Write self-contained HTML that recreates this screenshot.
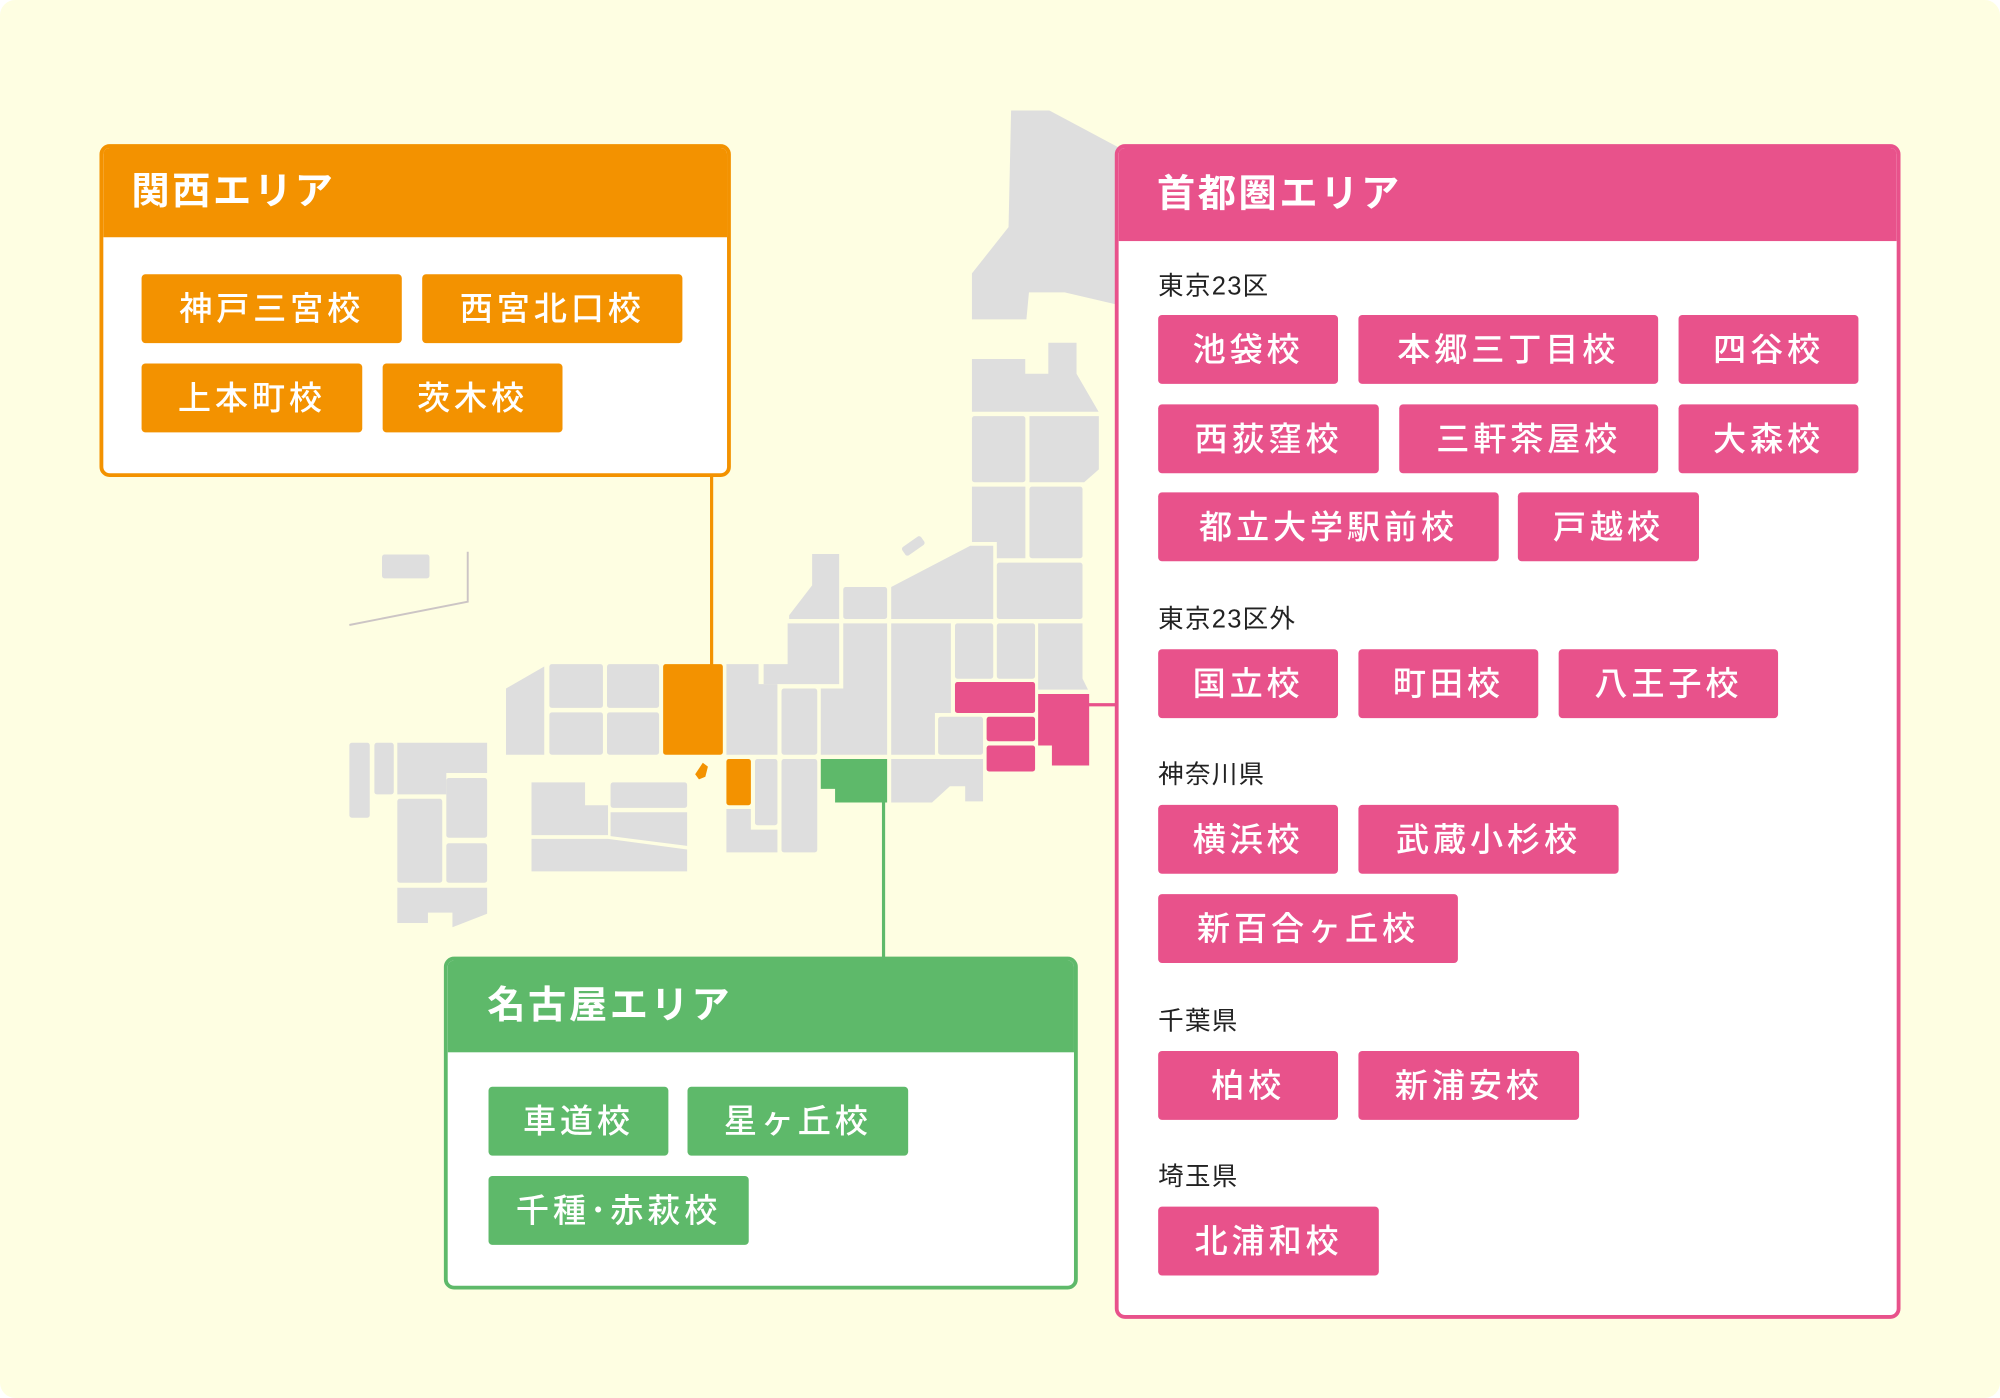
<!DOCTYPE html>
<html><head><meta charset="utf-8"><style>
html,body{margin:0;padding:0;background:#fff;}
body{width:2000px;height:1398px;overflow:hidden;position:relative;}
#stage{position:absolute;left:0;top:0;width:1568px;height:1096px;transform:scale(1.27551);transform-origin:0 0;background:#FEFEE2;border-radius:12px;font-family:"Liberation Sans","Noto Sans CJK JP",sans-serif;}
.box{position:absolute;background:#fff;border:3px solid;border-radius:8px;box-sizing:border-box;overflow:hidden;}
.hd{position:absolute;left:0;top:0;right:0;color:#fff;font-weight:bold;font-size:30px;letter-spacing:2px;box-sizing:border-box;}
.tag{position:absolute;height:54px;line-height:54px;color:#fff;font-size:26px;letter-spacing:3px;text-align:center;border-radius:3px;font-weight:500;}
.o{background:#F39200;} .p{background:#E8528B;} .g{background:#5EB96A;}
.sec{position:absolute;font-size:20px;color:#222;letter-spacing:1px;}
svg{position:absolute;left:0;top:0;}
</style></head><body><div id="stage">
<svg width="1568" height="1096" viewBox="0 0 1568 1096">
<g fill="#DEDEDE">
<polygon points="792.7,86.6 822.7,86.6 880,117.2 880,239.8 834.7,229.2 806.7,229.2 804.7,250.4 762,250.4 762,214.3 790.7,178.1"/>
<polygon points="762,281.5 803.8,281.5 803.8,293 821.9,293 821.9,268.7 844,268.7 844,293 861.3,322.8 762,322.8"/>
<rect x="762" y="326.2" width="41.9" height="51.9" rx="2"/>
<polygon points="807.1,326.2 861.5,326.2 861.5,368 850,378.1 807.1,378.1"/>
<polygon points="762,381.5 803.9,381.5 803.9,437.7 781.5,437.7 781.5,424.9 762,424.9"/>
<rect x="807.1" y="381.5" width="41.6" height="56.2" rx="2"/>
<rect x="781.5" y="441.1" width="67.2" height="44.2" rx="2"/>
<polygon points="698.7,460.2 760.7,427.9 778.7,427.9 778.7,485.3 698.7,485.3"/>
<rect x="707" y="424" width="18" height="8" rx="2" transform="rotate(-35 716 428)"/>
<polygon points="636.7,434.3 657.9,434.3 657.9,485.3 618.7,485.3 618.7,482.4 636.7,458.9"/>
<rect x="661.1" y="460.2" width="34.4" height="25.1" rx="2"/>
<polygon points="617.5,488.7 657.9,488.7 657.9,536.4 598.7,536.4 598.7,520.7 617.5,520.7"/>
<polygon points="661.1,488.7 695.5,488.7 695.5,591.7 643.5,591.7 643.5,539.8 661.1,539.8"/>
<polygon points="698.7,488.7 745.5,488.7 745.5,559 733,559 733,591.7 698.7,591.7"/>
<rect x="735.5" y="561.9" width="35.2" height="29.8" rx="2"/>
<rect x="748.7" y="488.7" width="30" height="43.4" rx="2"/>
<rect x="781.5" y="488.7" width="30" height="43.4" rx="2"/>
<polygon points="813.9,488.7 848.7,488.7 848.7,532 853,540.7 813.9,540.7"/>
<polygon points="698.7,595.1 770.7,595.1 770.7,628.3 756.7,628.3 756.7,616.4 744.7,616.4 730.7,629.2 698.7,629.2"/>
<polygon points="569.5,520.7 594.7,520.7 594.7,536.4 609.5,536.4 609.5,591.7 569.5,591.7"/>
<rect x="612.7" y="539.8" width="28" height="51.9" rx="2"/>
<rect x="591.9" y="595.1" width="17.6" height="51.9" rx="2"/>
<polygon points="569.5,634.3 588.7,634.3 588.7,650.4 609.5,650.4 609.5,668.3 569.5,668.3"/>
<rect x="612.7" y="595.1" width="28" height="73.2" rx="2"/>
<rect x="430.7" y="520.7" width="42" height="34.3" rx="2"/>
<rect x="475.9" y="520.7" width="40.8" height="34.3" rx="2"/>
<rect x="430.7" y="558.5" width="42" height="33.2" rx="2"/>
<rect x="475.9" y="558.5" width="40.8" height="33.2" rx="2"/>
<polygon points="396.7,539.8 426.7,522.5 426.7,591.7 396.7,591.7"/>
<polygon points="416.7,613.4 458.7,613.4 458.7,631.3 476.7,631.3 476.7,654.7 416.7,654.7"/>
<rect x="478.7" y="613.4" width="60" height="20" rx="2"/>
<polygon points="478.7,636.8 538.7,636.8 538.7,663.2 478.7,655.5"/>
<polygon points="416.7,657.7 476.7,657.7 538.7,666 538.7,683.2 416.7,683.2"/>
<rect x="273.9" y="582.3" width="16" height="58.8" rx="2"/>
<rect x="293.5" y="582.3" width="15.2" height="40.5" rx="2"/>
<polygon points="311.5,582.3 381.9,582.3 381.9,606 349.9,606 349.9,622.8 311.5,622.8"/>
<rect x="311.5" y="626.2" width="35.2" height="65.9" rx="2"/>
<rect x="349.9" y="610" width="32" height="46.8" rx="2"/>
<rect x="349.9" y="661.1" width="32" height="31" rx="2"/>
<polygon points="311.5,696 381.9,696 381.9,716.4 354.7,727 354.7,715.5 335.5,715.5 335.5,723.6 311.5,723.6"/>
<rect x="299.5" y="434.7" width="37.2" height="18.7" rx="2"/>
</g>
<polyline points="366.7,432.6 366.7,471.7 273.9,490" fill="none" stroke="#CCC5C5" stroke-width="1.5"/>
<g fill="#F39200">
<rect x="519.9" y="520.7" width="46.8" height="71" rx="2"/>
<rect x="569.5" y="595.1" width="19.2" height="36.2" rx="2"/>
<path d="M551,598 L555,601 L553,609 L548,611 L545,607 Z"/>
</g>
<g fill="#E8528B">
<rect x="748.7" y="534.7" width="62.8" height="24.3" rx="2"/>
<polygon points="813.9,544.1 853.9,544.1 853.9,600.2 824.7,600.2 824.7,584.5 813.9,584.5"/>
<rect x="773.5" y="561.9" width="38" height="19.2" rx="2"/>
<rect x="773.5" y="584.5" width="38" height="20.4" rx="2"/>
</g>
<polygon fill="#5EB96A" points="643.5,595.1 695.5,595.1 695.5,629.2 654.7,629.2 654.7,618.5 643.5,618.5"/>
<line x1="557.9" y1="372" x2="557.9" y2="521" stroke="#F39200" stroke-width="2.5"/>
<line x1="692.7" y1="628" x2="692.7" y2="751" stroke="#5EB96A" stroke-width="2.5"/>
<line x1="853" y1="552.5" x2="876" y2="552.5" stroke="#E8528B" stroke-width="2.5"/>
</svg>

<div class="box" style="left:78px;top:113px;width:495px;height:261px;border-color:#F39200;">
<div class="hd o" style="height:70px;line-height:70px;padding-left:22px;">関西エリア</div>
</div>
<div class="tag o" style="left:111px;top:215px;width:204px;">神戸三宮校</div>
<div class="tag o" style="left:331px;top:215px;width:204px;">西宮北口校</div>
<div class="tag o" style="left:111px;top:285px;width:173px;">上本町校</div>
<div class="tag o" style="left:300px;top:285px;width:141px;">茨木校</div>

<div class="box" style="left:348px;top:750px;width:497px;height:261px;border-color:#5EB96A;">
<div class="hd g" style="height:72px;line-height:72px;padding-left:31px;">名古屋エリア</div>
</div>
<div class="tag g" style="left:383px;top:852px;width:141px;">車道校</div>
<div class="tag g" style="left:539px;top:852px;width:173px;">星ヶ丘校</div>
<div class="tag g" style="left:383px;top:922px;width:204px;">千種･赤萩校</div>

<div class="box" style="left:874px;top:113px;width:616px;height:921px;border-color:#E8528B;">
<div class="hd p" style="height:73px;line-height:73px;padding-left:30px;">首都圏エリア</div>
</div>
<div class="sec" style="left:908px;top:208px;">東京23区</div>
<div class="tag p" style="left:908px;top:247px;width:141px;">池袋校</div>
<div class="tag p" style="left:1065px;top:247px;width:235px;">本郷三丁目校</div>
<div class="tag p" style="left:1316px;top:247px;width:141px;">四谷校</div>
<div class="tag p" style="left:908px;top:317px;width:173px;">西荻窪校</div>
<div class="tag p" style="left:1097px;top:317px;width:203px;">三軒茶屋校</div>
<div class="tag p" style="left:1316px;top:317px;width:141px;">大森校</div>
<div class="tag p" style="left:908px;top:386px;width:267px;">都立大学駅前校</div>
<div class="tag p" style="left:1190px;top:386px;width:142px;">戸越校</div>
<div class="sec" style="left:908px;top:469px;">東京23区外</div>
<div class="tag p" style="left:908px;top:509px;width:141px;">国立校</div>
<div class="tag p" style="left:1065px;top:509px;width:141px;">町田校</div>
<div class="tag p" style="left:1222px;top:509px;width:172px;">八王子校</div>
<div class="sec" style="left:908px;top:591px;">神奈川県</div>
<div class="tag p" style="left:908px;top:631px;width:141px;">横浜校</div>
<div class="tag p" style="left:1065px;top:631px;width:204px;">武蔵小杉校</div>
<div class="tag p" style="left:908px;top:701px;width:235px;">新百合ヶ丘校</div>
<div class="sec" style="left:908px;top:784px;">千葉県</div>
<div class="tag p" style="left:908px;top:824px;width:141px;">柏校</div>
<div class="tag p" style="left:1065px;top:824px;width:173px;">新浦安校</div>
<div class="sec" style="left:908px;top:906px;">埼玉県</div>
<div class="tag p" style="left:908px;top:946px;width:173px;">北浦和校</div>
</div></body></html>
